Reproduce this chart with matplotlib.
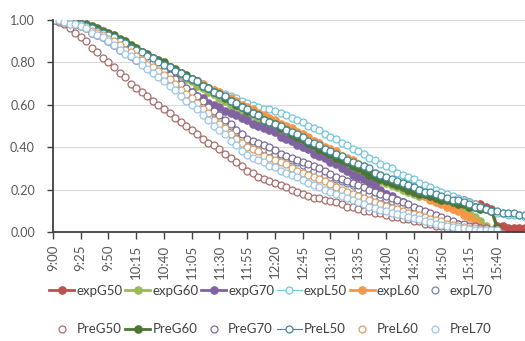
import matplotlib
matplotlib.use("Agg")
import matplotlib.pyplot as plt

plt.rcParams['font.family'] = ['Lato', 'DejaVu Sans']

# time axis, one category every 5 minutes from 9:00
times = [f"{(540 + 5 * i) // 60}:{(540 + 5 * i) % 60:02d}" for i in range(86)]

expG50 = [1.00, 1.00, 0.99, 0.99, 0.98, 0.98, 0.97, 0.96, 0.95, 0.94,
          0.93, 0.92, 0.90, 0.89, 0.87, 0.86, 0.85, 0.83, 0.82, 0.80,
          0.79, 0.78, 0.76, 0.75, 0.73, 0.72, 0.71, 0.69, 0.68, 0.66,
          0.65, 0.63, 0.62, 0.60, 0.59, 0.57, 0.56, 0.54, 0.53, 0.51,
          0.50, 0.49, 0.47, 0.46, 0.44, 0.43, 0.42, 0.40, 0.39, 0.38,
          0.37, 0.36, 0.34, 0.33, 0.32, 0.31, 0.30, 0.28, 0.27, 0.26,
          0.25, 0.24, 0.23, 0.23, 0.22, 0.21, 0.20, 0.19, 0.19, 0.18,
          0.17, 0.16, 0.16, 0.15, 0.15, 0.14, 0.13, 0.13, 0.12, 0.11,
          0.03, 0.03, 0.02, 0.02, 0.02, 0.02]
expG60 = [1.00, 1.00, 0.99, 0.99, 0.98, 0.97, 0.97, 0.96, 0.95, 0.94,
          0.93, 0.91, 0.90, 0.88, 0.87, 0.85, 0.84, 0.82, 0.81, 0.79,
          0.78, 0.77, 0.75, 0.74, 0.72, 0.71, 0.69, 0.68, 0.66, 0.65,
          0.63, 0.62, 0.60, 0.59, 0.57, 0.56, 0.55, 0.53, 0.52, 0.50,
          0.49, 0.48, 0.46, 0.45, 0.43, 0.42, 0.41, 0.39, 0.38, 0.37,
          0.35, 0.34, 0.33, 0.31, 0.30, 0.29, 0.28, 0.26, 0.25, 0.24,
          0.23, 0.22, 0.21, 0.20, 0.19, 0.18, 0.17, 0.17, 0.16, 0.15,
          0.14, 0.13, 0.12, 0.11, 0.10, 0.09, 0.07, 0.05, 0.03]
expG70 = [1.00, 1.00, 0.99, 0.98, 0.98, 0.97, 0.96, 0.94, 0.93, 0.92,
          0.90, 0.88, 0.86, 0.85, 0.83, 0.81, 0.80, 0.78, 0.76, 0.75,
          0.73, 0.72, 0.70, 0.69, 0.67, 0.66, 0.64, 0.63, 0.61, 0.60,
          0.59, 0.57, 0.56, 0.55, 0.54, 0.53, 0.51, 0.50, 0.49, 0.48,
          0.47, 0.45, 0.44, 0.43, 0.41, 0.40, 0.39, 0.37, 0.36, 0.35,
          0.33, 0.32, 0.30, 0.29, 0.27, 0.26, 0.25, 0.23, 0.22, 0.20,
          0.18, 0.17, 0.15, 0.14, 0.12, 0.11, 0.10, 0.09, 0.08, 0.07,
          0.05, 0.04, 0.03, 0.02]
expL50 = [1.00, 1.00, 0.99, 0.99, 0.98, 0.98, 0.97, 0.96, 0.95, 0.94,
          0.93, 0.92, 0.90, 0.89, 0.87, 0.86, 0.85, 0.83, 0.82, 0.80,
          0.79, 0.78, 0.76, 0.75, 0.73, 0.72, 0.71, 0.70, 0.68, 0.67,
          0.66, 0.65, 0.64, 0.63, 0.62, 0.61, 0.60, 0.59, 0.58, 0.58,
          0.57, 0.56, 0.55, 0.54, 0.53, 0.52, 0.50, 0.49, 0.48, 0.46,
          0.45, 0.44, 0.42, 0.41, 0.39, 0.38, 0.37, 0.35, 0.34, 0.32,
          0.31, 0.30, 0.28, 0.27, 0.26, 0.25, 0.23, 0.22, 0.21, 0.20,
          0.19, 0.18, 0.17, 0.16, 0.15, 0.14, 0.13, 0.12, 0.11, 0.10,
          0.09, 0.09, 0.08, 0.08, 0.08, 0.07]
expL60 = [1.00, 1.00, 0.99, 0.99, 0.98, 0.98, 0.97, 0.96, 0.95, 0.94,
          0.93, 0.92, 0.90, 0.89, 0.87, 0.86, 0.85, 0.83, 0.82, 0.80,
          0.79, 0.78, 0.76, 0.75, 0.73, 0.72, 0.71, 0.70, 0.68, 0.67,
          0.66, 0.64, 0.63, 0.62, 0.60, 0.59, 0.58, 0.56, 0.55, 0.54,
          0.53, 0.51, 0.50, 0.49, 0.47, 0.46, 0.45, 0.43, 0.42, 0.40,
          0.39, 0.38, 0.36, 0.35, 0.34, 0.32, 0.31, 0.29, 0.28, 0.27,
          0.25, 0.24, 0.23, 0.22, 0.20, 0.19, 0.18, 0.17, 0.15, 0.14,
          0.13, 0.12, 0.11, 0.10, 0.08, 0.07, 0.05, 0.03, 0.02]
expL70 = [1.00, 1.00, 0.99, 0.99, 0.98, 0.98, 0.97, 0.96, 0.95, 0.94,
          0.92, 0.91, 0.89, 0.87, 0.86, 0.84, 0.82, 0.80, 0.79, 0.77,
          0.75, 0.73, 0.71, 0.69, 0.67, 0.65, 0.63, 0.61, 0.58, 0.56,
          0.54, 0.52, 0.50, 0.47, 0.45, 0.43, 0.42, 0.41, 0.39, 0.38,
          0.37, 0.36, 0.35, 0.34, 0.33, 0.315, 0.30, 0.29, 0.28, 0.27,
          0.26, 0.25, 0.24, 0.23, 0.22, 0.205, 0.19, 0.18, 0.17, 0.165,
          0.155, 0.145, 0.135, 0.125, 0.115, 0.105, 0.095, 0.085, 0.075, 0.07,
          0.06, 0.05, 0.04, 0.04, 0.03, 0.025, 0.02, 0.02, 0.015, 0.01, 0.01]
PreG50 = [1.00, 0.99, 0.98, 0.96, 0.94, 0.92, 0.90, 0.87, 0.85, 0.82,
          0.80, 0.78, 0.75, 0.73, 0.70, 0.68, 0.66, 0.64, 0.62, 0.60,
          0.58, 0.56, 0.54, 0.52, 0.50, 0.48, 0.46, 0.44, 0.42, 0.41,
          0.39, 0.37, 0.35, 0.33, 0.31, 0.29, 0.28, 0.26, 0.25, 0.24,
          0.23, 0.22, 0.21, 0.20, 0.19, 0.18, 0.17, 0.16, 0.16, 0.15,
          0.145, 0.14, 0.13, 0.12, 0.12, 0.11, 0.10, 0.10, 0.09, 0.09,
          0.08, 0.07, 0.07, 0.06, 0.06, 0.05, 0.05, 0.04, 0.04, 0.03,
          0.03, 0.02, 0.02, 0.02, 0.01]
PreG60 = [1.00, 1.00, 1.00, 0.99, 0.99, 0.98, 0.98, 0.97, 0.96, 0.95,
          0.94, 0.93, 0.91, 0.90, 0.88, 0.87, 0.85, 0.84, 0.82, 0.81,
          0.80, 0.78, 0.77, 0.75, 0.74, 0.72, 0.71, 0.69, 0.68, 0.66,
          0.65, 0.63, 0.62, 0.60, 0.59, 0.57, 0.56, 0.55, 0.53, 0.52,
          0.51, 0.49, 0.48, 0.46, 0.45, 0.44, 0.42, 0.41, 0.39, 0.38,
          0.37, 0.35, 0.34, 0.33, 0.31, 0.30, 0.29, 0.27, 0.26, 0.25,
          0.24, 0.23, 0.22, 0.21, 0.20, 0.19, 0.18, 0.18, 0.17, 0.16,
          0.15, 0.15, 0.14, 0.13, 0.13, 0.12, 0.12, 0.11, 0.11, 0.10,
          0.02]
PreG70 = [1.00, 1.00, 0.99, 0.99, 0.98, 0.98, 0.97, 0.96, 0.95, 0.94,
          0.93, 0.91, 0.89, 0.88, 0.86, 0.85, 0.83, 0.81, 0.80, 0.78,
          0.76, 0.74, 0.72, 0.70, 0.68, 0.66, 0.64, 0.62, 0.59, 0.57,
          0.55, 0.53, 0.51, 0.48, 0.46, 0.44, 0.43, 0.42, 0.41, 0.40,
          0.385, 0.37, 0.36, 0.35, 0.34, 0.33, 0.32, 0.31, 0.30, 0.29,
          0.275, 0.26, 0.25, 0.24, 0.23, 0.22, 0.21, 0.20, 0.19, 0.18,
          0.17, 0.16, 0.15, 0.14, 0.13, 0.12, 0.11, 0.10, 0.09, 0.08,
          0.07, 0.06, 0.05, 0.04, 0.04, 0.03, 0.03, 0.02, 0.02, 0.01, 0.01]
PreL50 = [1.00, 1.00, 0.99, 0.99, 0.98, 0.98, 0.97, 0.96, 0.95, 0.94,
          0.93, 0.92, 0.90, 0.89, 0.87, 0.86, 0.85, 0.83, 0.82, 0.80,
          0.79, 0.78, 0.76, 0.75, 0.73, 0.72, 0.71, 0.69, 0.68, 0.66,
          0.65, 0.64, 0.62, 0.61, 0.59, 0.58, 0.56, 0.55, 0.53, 0.52,
          0.51, 0.50, 0.48, 0.47, 0.46, 0.45, 0.43, 0.42, 0.41, 0.39,
          0.38, 0.37, 0.36, 0.34, 0.33, 0.32, 0.31, 0.30, 0.28, 0.27,
          0.26, 0.25, 0.24, 0.23, 0.22, 0.21, 0.20, 0.19, 0.19, 0.18,
          0.17, 0.16, 0.15, 0.15, 0.14, 0.13, 0.12, 0.12, 0.11, 0.10,
          0.10, 0.09, 0.09, 0.09, 0.08, 0.08]
PreL60 = [1.00, 1.00, 0.99, 0.98, 0.98, 0.97, 0.96, 0.95, 0.94, 0.93,
          0.91, 0.90, 0.88, 0.86, 0.85, 0.83, 0.81, 0.79, 0.78, 0.76,
          0.74, 0.72, 0.70, 0.67, 0.65, 0.63, 0.61, 0.58, 0.56, 0.53,
          0.51, 0.49, 0.46, 0.44, 0.42, 0.40, 0.39, 0.38, 0.36, 0.35,
          0.34, 0.33, 0.32, 0.30, 0.29, 0.28, 0.27, 0.26, 0.25, 0.24,
          0.225, 0.21, 0.20, 0.19, 0.18, 0.17, 0.16, 0.15, 0.14, 0.13,
          0.125, 0.115, 0.11, 0.10, 0.09, 0.085, 0.08, 0.07, 0.06, 0.055,
          0.05, 0.04, 0.035, 0.03, 0.025, 0.02, 0.02, 0.015, 0.01, 0.01, 0.01]
PreL70 = [1.00, 1.00, 0.99, 0.98, 0.98, 0.97, 0.96, 0.94, 0.93, 0.92,
          0.90, 0.88, 0.86, 0.84, 0.83, 0.81, 0.79, 0.77, 0.75, 0.73,
          0.71, 0.69, 0.67, 0.64, 0.62, 0.60, 0.58, 0.55, 0.53, 0.50,
          0.48, 0.46, 0.43, 0.41, 0.38, 0.365, 0.35, 0.34, 0.33, 0.31,
          0.305, 0.29, 0.28, 0.27, 0.26, 0.245, 0.23, 0.22, 0.21, 0.20,
          0.19, 0.18, 0.17, 0.16, 0.15, 0.14, 0.13, 0.12, 0.115, 0.105,
          0.10, 0.09, 0.085, 0.08, 0.07, 0.065, 0.06, 0.05, 0.045, 0.04,
          0.035, 0.03, 0.025, 0.02, 0.02, 0.015, 0.01, 0.01, 0.01, 0.01, 0.01]

# (name, values, colour, style): 'f' = line + filled dots, 'o' = open dots only,
# 'lo' = thin line + open dots
series = [
    ("expG50", expG50, "#c0504d", "f"),
    ("expG60", expG60, "#9bbb59", "f"),
    ("expG70", expG70, "#8064a2", "f"),
    ("expL50", expL50, "#72c6dc", "lo"),
    ("expL60", expL60, "#f79646", "f"),
    ("expL70", expL70, "#6f86b8", "o"),
    ("PreG50", PreG50, "#a86e6a", "o"),
    ("PreG60", PreG60, "#4c7633", "f"),
    ("PreG70", PreG70, "#7c6a92", "o"),
    ("PreL50", PreL50, "#3f8a9c", "lo"),
    ("PreL60", PreL60, "#d9a066", "o"),
    ("PreL70", PreL70, "#9cc5e8", "o"),
]

fig = plt.figure(figsize=(5.25, 3.41), dpi=100)
ax = fig.add_axes([53 / 525, 1 - 232 / 341, 1 - 53 / 525, 212 / 341])

handles = []
for name, vals, col, kind in series:
    x = list(range(len(vals)))
    if kind == "f":
        h, = ax.plot(x, vals, color=col, lw=2.0, marker="o", ms=5.2,
                     mfc=col, mec=col, label=name)
    elif kind == "lo":
        h, = ax.plot(x, vals, color=col, lw=0.8, marker="o", ms=5.0,
                     mfc="white", mec=col, mew=0.9, label=name)
    else:
        h, = ax.plot(x, vals, ls="none", marker="o", ms=5.0,
                     mfc="white", mec=col, mew=0.9, label=name)
    handles.append(h)

ax.set_xlim(0, 85.05)
ax.set_ylim(0, 1.0)
yt = [0, 0.2, 0.4, 0.6, 0.8, 1.0]
ax.set_yticks(yt)
ax.set_yticklabels([f"{v:.2f}" for v in yt])
tick_pos = list(range(0, 81, 5))
ax.set_xticks(tick_pos)
ax.set_xticklabels([times[i] for i in tick_pos], rotation=90)

ax.grid(axis="y", color="#d9d9d9", lw=0.8)
ax.set_axisbelow(True)
for s in ["top", "right"]:
    ax.spines[s].set_visible(False)
for s in ["left", "bottom"]:
    ax.spines[s].set_color("#404040")
    ax.spines[s].set_linewidth(1.3)
    ax.spines[s].set_zorder(5)
ax.tick_params(axis="both", colors="#404040", labelcolor="#595959",
               labelsize=9, width=1.0)
ax.tick_params(axis="y", length=4, pad=9)
ax.tick_params(axis="x", length=5, pad=4, labelsize=9.5)

# legend fills column by column, so interleave to get two rows of six
order = []
for i in range(6):
    order += [handles[i], handles[i + 6]]
fig.legend(handles=order, loc="center", ncol=6,
           bbox_to_anchor=(0.516, 1 - 310 / 341), frameon=False,
           fontsize=9.5, handlelength=1.9, handletextpad=0.15,
           columnspacing=0.2, labelspacing=2.0, labelcolor="#404040")

fig.savefig("out.png", dpi=100)
